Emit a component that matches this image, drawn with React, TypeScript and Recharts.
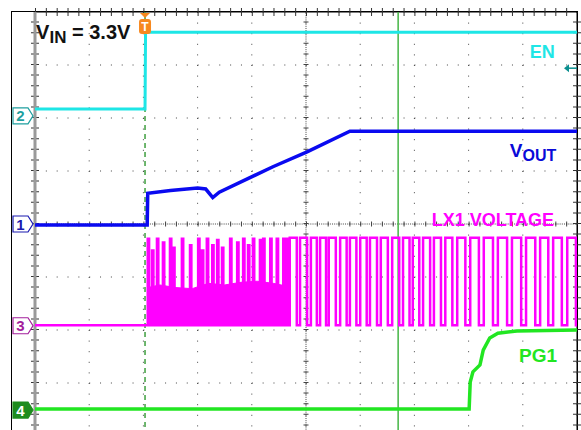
import React from 'react';
import {
  ComposedChart,
  Line,
  Area,
  XAxis,
  YAxis,
  CartesianGrid,
  ReferenceLine,
  ReferenceDot,
} from 'recharts';

// screen units: time in divisions (0-10), level in divisions from the bottom edge (0-8)
const xTicks = [0, 1, 2, 3, 4, 5, 6, 7, 8, 9, 10];
const yTicks = [0, 1, 2, 3, 4, 5, 6, 7, 8];

const enTrace = [[0, 6.17], [2.03, 6.17], [2.04, 7.62], [10, 7.62]];

const voutTrace = [
  [0, 3.98], [2.07, 3.98], [2.08, 4.58], [2.5, 4.63], [3.0, 4.68], [3.15, 4.66],
  [3.28, 4.5], [3.4, 4.6], [4.39, 5.08], [5.02, 5.36], [5.81, 5.75], [10, 5.75],
];

const pgTrace = [
  [0, 0.51], [8.01, 0.51], [8.03, 1.02], [8.08, 1.21], [8.21, 1.34], [8.27, 1.62],
  [8.39, 1.85], [8.54, 1.94], [8.89, 1.98], [10, 2.0],
];

const lxLow = 2.09;
const lxHigh = 3.74;

// soft-start burst: [time, peak]
const lxBurst = [
  [2.08, 3.72], [2.16, 3.5], [2.25, 3.72], [2.36, 3.65], [2.49, 3.72], [2.55, 3.55],
  [2.71, 3.72], [2.86, 3.6], [3.01, 3.72], [3.08, 3.5], [3.17, 3.72], [3.27, 3.6],
  [3.36, 3.7], [3.45, 3.55], [3.6, 3.72], [3.73, 3.65], [3.84, 3.72], [3.93, 3.6],
  [4.02, 3.72], [4.15, 3.7], [4.21, 3.72], [4.34, 3.72], [4.46, 3.72], [4.58, 3.72],
  [4.65, 3.72],
];

// top of the dense switching band: [time, level]
const lxBand = [
  [2.08, 2.8], [2.3, 2.85], [2.6, 2.8], [2.9, 2.78], [3.2, 2.88], [3.5, 2.85],
  [3.8, 2.9], [4.1, 2.92], [4.4, 2.88], [4.68, 2.82],
];

// regular switching: [rise, fall]
const lxPulses = [
  [4.7, 4.83], [4.89, 5.02], [5.09, 5.2], [5.26, 5.37], [5.42, 5.55], [5.63, 5.75],
  [5.81, 5.93], [6.0, 6.12], [6.18, 6.31], [6.38, 6.51], [6.59, 6.72], [6.79, 6.91],
  [6.97, 7.09], [7.16, 7.29], [7.36, 7.49], [7.57, 7.7], [7.79, 7.94], [8.03, 8.19],
  [8.28, 8.45], [8.54, 8.71], [8.8, 8.97], [9.06, 9.23], [9.32, 9.47], [9.56, 9.72],
  [9.82, 9.98],
];

const triggerAt = 2.03;
const cursorAt = 6.7;

const toPts = (arr: number[][]) => arr.map(([t, v]) => ({ t, v }));

const lxData: { t: number; v: number }[] = [{ t: 0, v: lxLow }, { t: 2.07, v: lxLow }];
lxBurst.forEach(([t, p]) => {
  lxData.push({ t, v: lxLow }, { t, v: p }, { t: t + 0.025, v: p }, { t: t + 0.025, v: lxLow });
});
lxPulses.forEach(([r, f]) => {
  lxData.push({ t: r, v: lxLow }, { t: r, v: lxHigh }, { t: f, v: lxHigh }, { t: f, v: lxLow });
});
lxData.push({ t: 10, v: lxLow });

const bandData = lxBand.map(([t, top]) => ({ t, band: [lxLow, top] }));

const FONT = '"Liberation Sans", Arial, sans-serif';

const EN_C = '#1ee6e6';
const VOUT_C = '#0a0af0';
const LX_C = '#ff00ff';
const PG_C = '#22e622';

const ChannelTag = ({ cx, cy, label, color, filled }: any) => {
  const x0 = cx - 22;
  const x1 = cx - 7;
  const tip = cx - 2;
  const pts = `${x0},${cy - 8} ${x1},${cy - 8} ${tip},${cy} ${x1},${cy + 8} ${x0},${cy + 8}`;
  return (
    <g>
      <polygon points={pts} fill={filled ? color : '#fff'} stroke={color} strokeWidth={1.2} />
      <text x={x0 + 7.5} y={cy + 5.5} textAnchor="middle" fontFamily={FONT} fontSize={15} fontWeight="bold" fill={filled ? '#fff' : color}>
        {label}
      </text>
    </g>
  );
};

const Caption = ({ cx, cy, main, sub, color, size = 18 }: any) => (
  <text x={cx} y={cy} fontFamily={FONT} fontSize={size} fontWeight="bold" fill={color}>
    {main}
    {sub && (
      <tspan fontSize={size - 3} dy={4}>
        {sub.text}
      </tspan>
    )}
    {sub && sub.rest && <tspan dy={-4} fontSize={size}>{sub.rest}</tspan>}
  </text>
);

const TriggerMark = ({ cx, cy }: any) => (
  <g>
    <polygon points={`${cx - 5},${cy + 1} ${cx + 5},${cy + 1} ${cx},${cy + 6}`} fill="#f7891f" />
    <rect x={cx - 6} y={cy + 7} width={12} height={15} rx={3} fill="#f7891f" />
    <text x={cx} y={cy + 19} textAnchor="middle" fontFamily={FONT} fontSize={12} fontWeight="bold" fill="#fff">
      T
    </text>
  </g>
);

const OffsetArrow = ({ cx, cy }: any) => (
  <g>
    <polygon points={`${cx - 13},${cy} ${cx - 8},${cy - 4} ${cx - 8},${cy + 4}`} fill="#0a8f8f" />
    <line x1={cx - 9} y1={cy} x2={cx} y2={cy} stroke="#0a8f8f" strokeWidth={1.5} />
  </g>
);

export default function App() {
  return (
    <div style={{ position: 'absolute', left: 0, top: 0, width: 581, height: 430, overflow: 'hidden', background: '#fff' }}>
      <div
        style={{
          position: 'absolute',
          left: 11,
          top: 11,
          width: 567,
          height: 440,
          border: '1px solid #000',
          boxSizing: 'border-box',
        }}
      />
      <div style={{ position: 'absolute', left: 0, top: 0 }}>
        <ComposedChart width={581} height={450} margin={{ top: 12, right: 4, bottom: 14, left: 35 }}>
          <XAxis hide type="number" dataKey="t" domain={[0, 10]} ticks={xTicks} allowDataOverflow />
          <YAxis hide type="number" domain={[0, 8]} ticks={yTicks} allowDataOverflow />
          <CartesianGrid vertical={false} stroke="#444" strokeDasharray="1 9.84" />
          <CartesianGrid horizontal={false} stroke="#444" strokeDasharray="1 9.6" />

          {/* centre graticule with minor ticks */}
          <ReferenceLine y={4} stroke="#444" strokeDasharray="1 1.168" />
          <ReferenceLine y={4} stroke="#444" strokeWidth={5} strokeDasharray="1 9.84" />
          <ReferenceLine x={5} stroke="#444" strokeDasharray="1 1.12" />
          <ReferenceLine x={5} stroke="#444" strokeWidth={5} strokeDasharray="1 9.6" />

          {/* frame edges */}
          <ReferenceLine y={8} stroke="#000" />
          <ReferenceLine y={8} stroke="#333" strokeWidth={8} strokeDasharray="1 9.84" />
          <ReferenceLine x={10} stroke="#000" />
          <ReferenceLine x={10} stroke="#333" strokeWidth={8} strokeDasharray="1 9.6" />
          <ReferenceLine x={0} stroke="#333" strokeWidth={8} strokeDasharray="1 9.6" />
          <ReferenceLine x={0} stroke="#9a9a9a" strokeWidth={3} />

          <ReferenceLine x={triggerAt} stroke="#3f9f3f" strokeWidth={1.5} strokeDasharray="5 4" />
          <ReferenceLine x={cursorAt} stroke="#44b544" strokeWidth={1.5} />

          <Line data={toPts(enTrace)} dataKey="v" type="linear" stroke={EN_C} strokeWidth={3} dot={false} isAnimationActive={false} />
          <Line data={toPts(voutTrace)} dataKey="v" type="linear" stroke={VOUT_C} strokeWidth={3.5} dot={false} isAnimationActive={false} />
          <Area data={bandData} dataKey="band" type="linear" stroke={LX_C} fill={LX_C} fillOpacity={1} isAnimationActive={false} />
          <Line data={lxData} dataKey="v" type="linear" stroke={LX_C} strokeWidth={2.5} dot={false} isAnimationActive={false} />
          <Line data={toPts(pgTrace)} dataKey="v" type="linear" stroke={PG_C} strokeWidth={3.5} dot={false} isAnimationActive={false} />

          <ReferenceDot x={0} y={6.04} r={0} shape={(p: any) => <ChannelTag cx={p.cx} cy={p.cy} label="2" color="#1f9f9f" />} />
          <ReferenceDot x={0} y={4} r={0} shape={(p: any) => <ChannelTag cx={p.cx} cy={p.cy} label="1" color="#1a1ab0" />} />
          <ReferenceDot x={0} y={2.08} r={0} shape={(p: any) => <ChannelTag cx={p.cx} cy={p.cy} label="3" color="#a3209c" />} />
          <ReferenceDot x={0} y={0.49} r={0} shape={(p: any) => <ChannelTag cx={p.cx} cy={p.cy} label="4" color="#1e8c1e" filled />} />

          <ReferenceDot x={triggerAt} y={8} r={0} shape={(p: any) => <TriggerMark cx={p.cx} cy={p.cy} />} />
          <ReferenceDot x={10} y={6.94} r={0} shape={(p: any) => <OffsetArrow cx={p.cx} cy={p.cy} />} />

          <ReferenceDot x={0.02} y={7.49} r={0} shape={(p: any) => <Caption cx={p.cx} cy={p.cy} main="V" sub={{ text: 'IN', rest: ' = 3.3V' }} color="#111" size={20} />} />
          <ReferenceDot x={9.13} y={7.13} r={0} shape={(p: any) => <Caption cx={p.cx} cy={p.cy} main="EN" color={EN_C} />} />
          <ReferenceDot x={8.76} y={5.26} r={0} shape={(p: any) => <Caption cx={p.cx} cy={p.cy} main="V" sub={{ text: 'OUT' }} color="#0a0ad8" size={19} />} />
          <ReferenceDot x={7.32} y={3.96} r={0} shape={(p: any) => <Caption cx={p.cx} cy={p.cy} main="LX1 VOLTAGE" color={LX_C} />} />
          <ReferenceDot x={8.93} y={1.4} r={0} shape={(p: any) => <Caption cx={p.cx} cy={p.cy} main="PG1" color={PG_C} size={19} />} />
        </ComposedChart>
      </div>
    </div>
  );
}
